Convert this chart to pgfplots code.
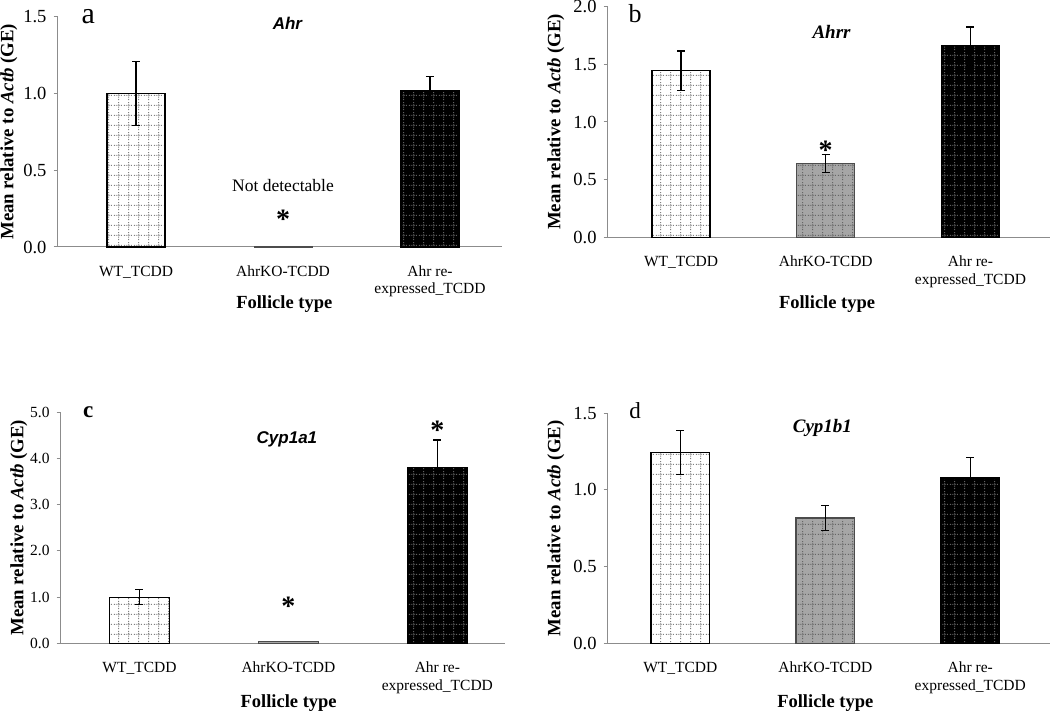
\documentclass[border=0pt]{standalone}
\usepackage{fontspec}
\setmainfont{Liberation Serif}
\newfontfamily\arialf{Liberation Sans}
\usepackage{pgfplots}
\pgfplotsset{compat=1.18}
\usetikzlibrary{patterns}

\definecolor{axgray}{rgb}{0.55,0.55,0.55}
\definecolor{kogray}{rgb}{0.65,0.65,0.65}

\pgfdeclarepatternformonly{dotgrid}{\pgfqpoint{0pt}{0pt}}{\pgfqpoint{9.5pt}{9.5pt}}{\pgfqpoint{9.5pt}{9.5pt}}{%
  \pgfsetlinewidth{1pt}%
  \pgfsetdash{{1.2pt}{1.175pt}}{0pt}%
  \pgfpathmoveto{\pgfqpoint{0pt}{4.75pt}}\pgfpathlineto{\pgfqpoint{9.5pt}{4.75pt}}%
  \pgfpathmoveto{\pgfqpoint{4.75pt}{0pt}}\pgfpathlineto{\pgfqpoint{4.75pt}{9.5pt}}%
  \pgfusepath{stroke}%
}

\tikzset{astnode/.style={font=\bfseries\fontsize{28}{30}\selectfont, anchor=north, inner sep=0pt}}

\pgfplotsset{
  panel/.style={
    scale only axis, anchor=south west, clip=false,
    axis x line*=bottom, axis y line*=left,
    axis line style={draw=axgray, line width=1pt, -},
    ymin=0,
    xtick={0,1,2},
    xticklabels={WT\_TCDD,AhrKO-TCDD,{Ahr re-\\expressed\_TCDD}},
    xtick style={draw=none},
    ytick style={draw=axgray, line width=1pt},
    major tick length=4pt, tick align=outside, ytick pos=left,
    /pgf/number format/assume math mode=true,
    yticklabel style={/pgf/number format/fixed, /pgf/number format/fixed zerofill, /pgf/number format/precision=1, inner sep=0pt, xshift=-7pt, font=\fontsize{18.5}{20}\selectfont},
    xticklabel style={align=center, inner sep=0pt, yshift=-14.7pt, font=\fontsize{15.5}{17.3}\selectfont},
    ylabel={Mean relative to \textit{Actb} (GE)},
    xlabel={Follicle type},
    ylabel style={font=\bfseries\fontsize{18.8}{20}\selectfont, anchor=center},
    xlabel style={font=\bfseries\fontsize{18.5}{21}\selectfont, anchor=center},
  },
  wt/.style={ybar, bar shift=0pt, fill=white, draw=black, line width=1.2pt, postaction={pattern=dotgrid, pattern color=black!50}},
  ko/.style={ybar, bar shift=0pt, fill=kogray, draw=black!70, line width=1.2pt, postaction={pattern=dotgrid, pattern color=black!60}},
  re/.style={ybar, bar shift=0pt, fill=black, draw=black, line width=1.2pt, postaction={pattern=dotgrid, pattern color=black!62}},
  eb/.style={error bars/.cd, y dir=both, y explicit, error bar style={line width=1.3pt, black, solid}, error mark options={rotate=90, mark size=4pt, line width=1.3pt, black, solid}},
}

\begin{document}
\begin{tikzpicture}[x=1pt,y=1pt]

% ---------- panel a ----------
\begin{axis}[panel, at={(57.7pt,468pt)}, width=444.3pt, height=230.3pt,
  xmin=-0.533, xmax=2.49, ymax=1.5, ytick={0,0.5,1,1.5},
  ylabel style={at={(axis description cs:-0.110,0.5)}},
  xlabel style={at={(axis description cs:0.51,-0.2475)}}]
\addplot[wt, bar width=58pt, eb] coordinates {(0,1.0) +- (0,0.21)};
\addplot[ko, bar width=58pt, line width=0.8pt] coordinates {(1,0.006)};
\addplot[re, bar width=58pt, eb] coordinates {(2,1.02) +- (0,0.09)};
\node[font=\arialf\bfseries\itshape\fontsize{17}{20}\selectfont] at (axis cs:1.03,1.457) {Ahr};
\node[font=\fontsize{17.5}{20}\selectfont] at (axis cs:1.0,0.40) {Not detectable};
\node[astnode] at (axis cs:1.0,0.245) {*};
\end{axis}

% ---------- panel b ----------
\begin{axis}[panel, at={(607.7pt,477.7pt)}, width=442.3pt, height=230.6pt,
  xmin=-0.507, xmax=2.55, ymax=2.0, ytick={0,0.5,1,1.5,2},
  ylabel style={at={(axis description cs:-0.1173,0.5)}},
  xlabel style={at={(axis description cs:0.496,-0.2892)}}]
\addplot[wt, bar width=58pt, eb] coordinates {(0,1.445) +- (0,0.17)};
\addplot[ko, bar width=58pt, eb] coordinates {(1,0.64) +- (0,0.08)};
\addplot[re, bar width=58pt, eb] coordinates {(2,1.66) +- (0,0.165)};
\node[font=\bfseries\itshape\fontsize{19}{21}\selectfont] at (axis cs:1.04,1.783) {Ahrr};
\node[astnode] at (axis cs:1.0,0.835) {*};
\end{axis}

% ---------- panel c ----------
\begin{axis}[panel, at={(60.7pt,71.7pt)}, width=444.3pt, height=231pt,
  xmin=-0.529, xmax=2.454, ymax=5.0, ytick={0,1,2,3,4,5},
  yticklabel style={font=\fontsize{15.5}{18}\selectfont},
  ylabel style={at={(axis description cs:-0.0943,0.5)}},
  xlabel style={at={(axis description cs:0.513,-0.2597)}}]
\addplot[wt, bar width=59.6pt, eb] coordinates {(0,1.0) +- (0,0.16)};
\addplot[ko, bar width=59.6pt, line width=0.8pt] coordinates {(1,0.04)};
\addplot[re, bar width=59.6pt, eb] coordinates {(2,3.8) +- (0,0.6)};
\node[font=\arialf\bfseries\itshape\fontsize{17}{20}\selectfont] at (axis cs:0.99,4.42) {Cyp1a1};
\node[astnode] at (axis cs:1.0,1.0) {*};
\node[astnode] at (axis cs:2.0,4.82) {*};
\end{axis}

% ---------- panel d ----------
\begin{axis}[panel, at={(607.7pt,71.7pt)}, width=442.3pt, height=230pt,
  xmin=-0.501, xmax=2.55, ymax=1.5, ytick={0,0.5,1,1.5},
  ylabel style={at={(axis description cs:-0.1173,0.5)}},
  xlabel style={at={(axis description cs:0.492,-0.2609)}}]
\addplot[wt, bar width=58.5pt, eb] coordinates {(0,1.243) +- (0,0.143)};
\addplot[ko, bar width=58.5pt, eb] coordinates {(1,0.817) +- (0,0.08)};
\addplot[re, bar width=58.5pt, eb] coordinates {(2,1.078) +- (0,0.133)};
\node[font=\bfseries\itshape\fontsize{19}{21}\selectfont] at (axis cs:0.98,1.406) {Cyp1b1};
\end{axis}

% panel letters
\node[anchor=base, font=\fontsize{30}{32}\selectfont] at (88.3,691.7) {a};
\node[anchor=base, font=\fontsize{26}{28}\selectfont] at (635,692.3) {b};
\node[anchor=base, font=\bfseries\fontsize{23}{25}\selectfont] at (88.3,297.3) {c};
\node[anchor=base, font=\fontsize{23}{25}\selectfont] at (635,296.7) {d};

\pgfresetboundingbox
\path[use as bounding box] (0,0) rectangle (1050,715);
\end{tikzpicture}
\end{document}
